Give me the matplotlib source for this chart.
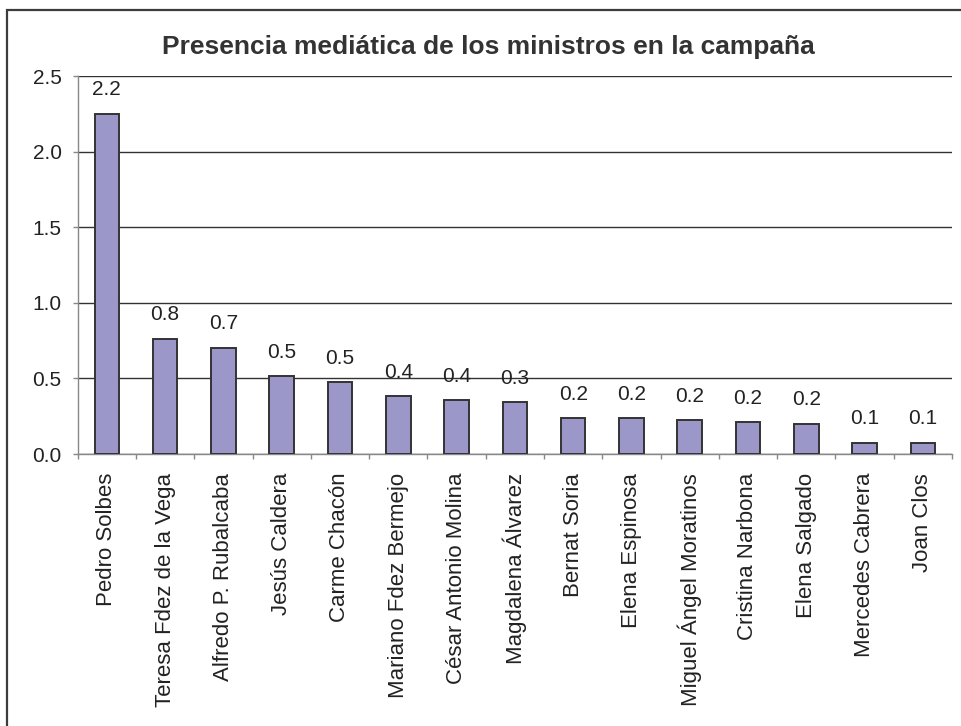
import matplotlib
matplotlib.use("Agg")
import matplotlib.pyplot as plt
from matplotlib.patches import Rectangle

# Datos
ministros = [
    "Pedro Solbes", "Teresa Fdez de la Vega", "Alfredo P. Rubalcaba",
    "Jesús Caldera", "Carme Chacón", "Mariano Fdez Bermejo",
    "César Antonio Molina", "Magdalena Álvarez", "Bernat Soria",
    "Elena Espinosa", "Miguel Ángel Moratinos", "Cristina Narbona",
    "Elena Salgado", "Mercedes Cabrera", "Joan Clos",
]
presencia = [2.25, 0.763, 0.70, 0.514, 0.474, 0.382, 0.355, 0.342,
             0.236, 0.236, 0.223, 0.21, 0.197, 0.075, 0.075]
etiquetas = ["2.2", "0.8", "0.7", "0.5", "0.5", "0.4", "0.4", "0.3",
             "0.2", "0.2", "0.2", "0.2", "0.2", "0.1", "0.1"]
yticks = [0.0, 0.5, 1.0, 1.5, 2.0, 2.5]

plt.rcParams['font.family'] = ['Liberation Sans', 'DejaVu Sans']

W, H = 962, 726
fig = plt.figure(figsize=(W / 100, H / 100), dpi=100)

# marco del grafico (cortado a la derecha y abajo, como en el original)
fig.patches.append(Rectangle((7.5 / W, -0.1), 1.2, 1.1 - 10 / H,
                             transform=fig.transFigure, fill=False,
                             edgecolor="#3c3c3c", linewidth=1.6))

left, right, top, bottom = 77.7, 952, 76.3, 454
ax = fig.add_axes([left / W, 1 - bottom / H, (right - left) / W, (bottom - top) / H])

x = list(range(len(ministros)))
ax.bar(x, presencia, width=0.42, color="#9c97c9", edgecolor="#333333",
       linewidth=1.4, zorder=3)

for xi, v, lab in zip(x, presencia, etiquetas):
    ax.annotate(lab, (xi, v), xytext=(0, 13.5), textcoords="offset points",
                ha="center", va="baseline", fontsize=15, color="#222222")

ax.set_xlim(-0.5, len(ministros) - 0.5)
ax.set_ylim(0, 2.5)
ax.set_yticks(yticks)
ax.set_yticklabels([f"{t:.1f}" for t in yticks])
ax.yaxis.grid(True, color="#333333", linewidth=1.0, zorder=0)

ax.set_xticks(x)
ax.set_xticklabels(ministros, rotation=90, fontsize=16, color="#222222")
ax.set_xticks([i - 0.5 for i in range(len(ministros) + 1)], minor=True)
ax.tick_params(axis="x", which="major", length=0, pad=13.5)
ax.tick_params(axis="x", which="minor", length=3.6, color="#888888", width=1)
ax.tick_params(axis="y", length=3.6, color="#888888", width=1, pad=8,
               labelsize=15, labelcolor="#222222")

for s in ["top", "right"]:
    ax.spines[s].set_visible(False)
for s in ["left", "bottom"]:
    ax.spines[s].set_color("#888888")
    ax.spines[s].set_linewidth(1)

fig.text(488 / W, 1 - 47 / H, "Presencia mediática de los ministros en la campaña",
         ha="center", va="center", fontsize=19, fontweight="bold", color="#333333")

fig.savefig("out.png", dpi=100)
